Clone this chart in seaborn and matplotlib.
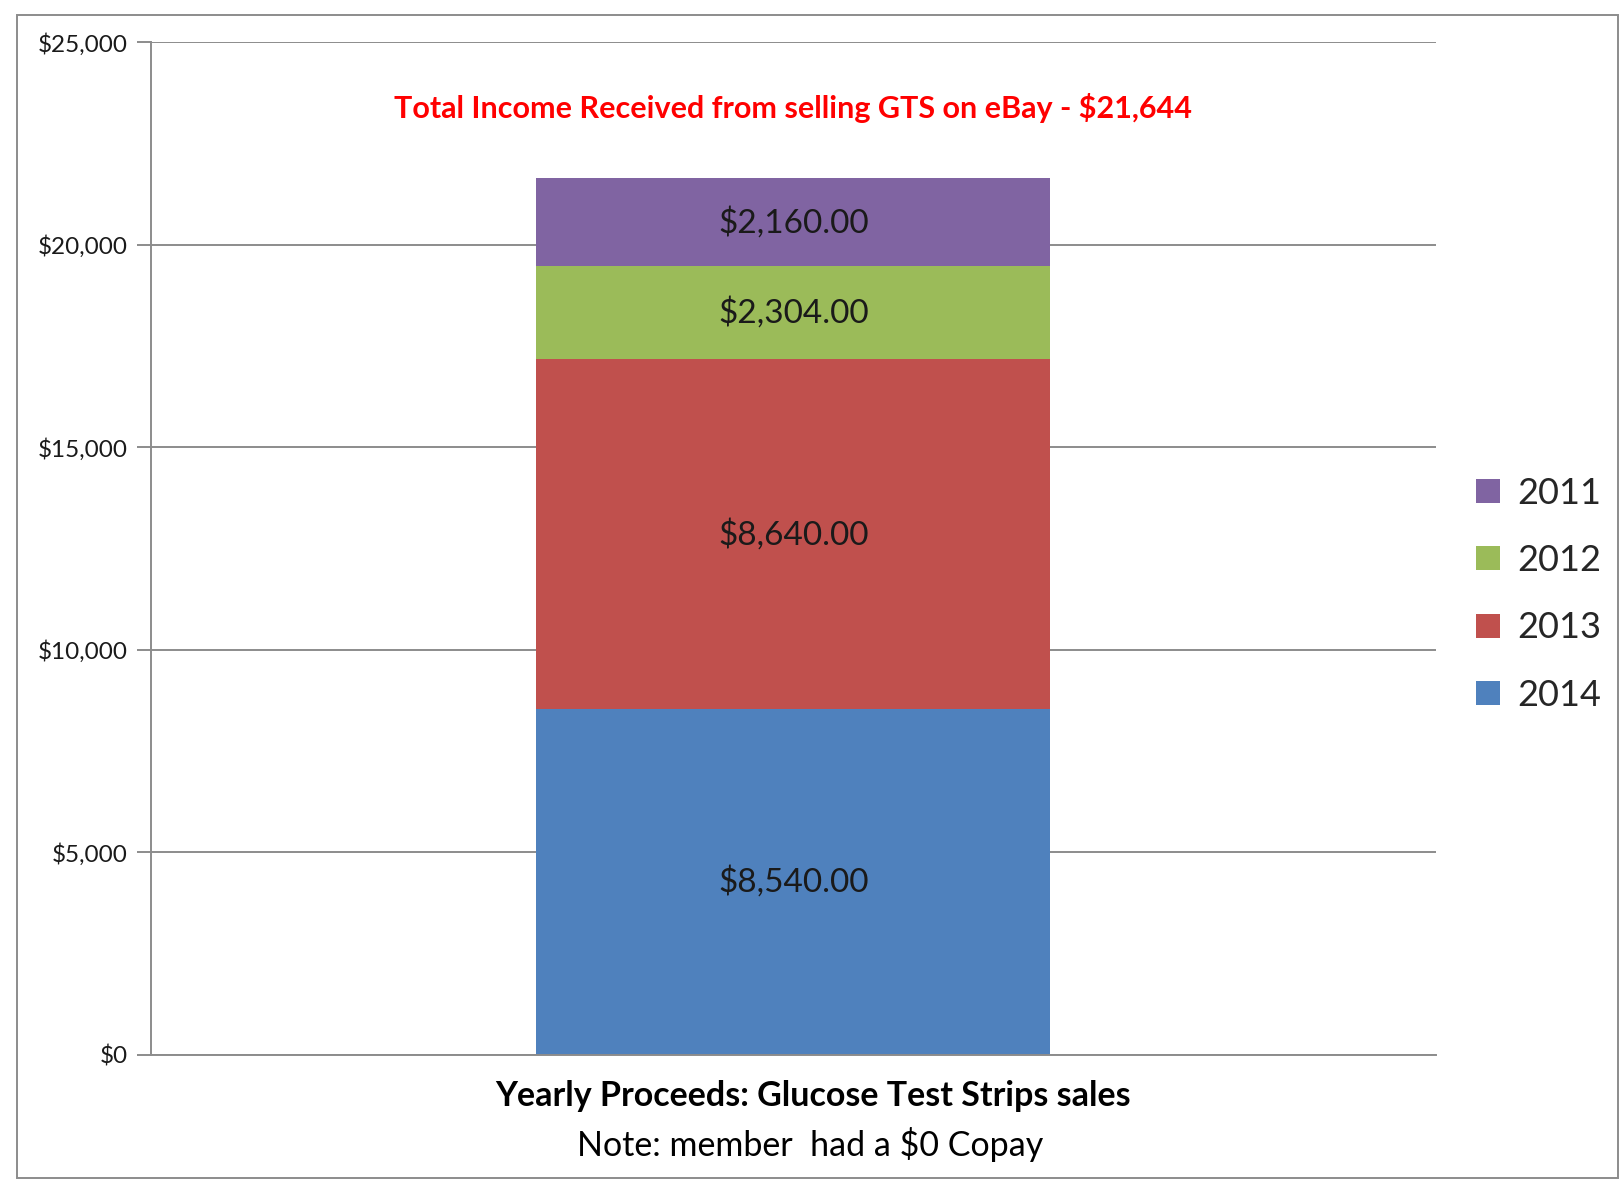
import numpy as np
import pandas as pd
import matplotlib
matplotlib.use("Agg")
import matplotlib.pyplot as plt
from matplotlib.patches import Rectangle
from matplotlib.ticker import FuncFormatter
import seaborn as sns

# data, bottom segment first
years = ["2014", "2013", "2012", "2011"]
proceeds = [8540, 8640, 2304, 2160]
colors = ["#4F81BD", "#C0504D", "#9BBB59", "#8064A2"]
category = ["Yearly Proceeds"]
y_ticks = [0, 5000, 10000, 15000, 20000, 25000]

sns.set_theme(style="white")
plt.rcParams["font.family"] = ["Lato", "DejaVu Sans"]

fig = plt.figure(figsize=(16.22, 11.84), dpi=100)
ax = fig.add_axes([0.0931, 0.1090, 0.7922, 0.8552])

# outer chart frame
fig.patches.append(Rectangle((0.0105, 0.0051), 0.987, 0.9822, transform=fig.transFigure,
                             fill=False, edgecolor="#8c8c8c", linewidth=1.4))

bottoms = np.concatenate([[0], np.cumsum(proceeds)[:-1]])
for yr, val, bot, col in zip(years, proceeds, bottoms, colors):
    df = pd.DataFrame({"cat": category, "val": [val]})
    sns.barplot(data=df, x="cat", y="val", bottom=bot, color=col, width=0.4,
                saturation=1, label=yr, ax=ax, linewidth=0)
    ax.text(0, bot + val / 2, f"${val:,.2f}", ha="center", va="center",
            fontsize=24, color="#1a1a1a")

ax.set_xlim(-0.5, 0.5)
ax.set_ylim(0, 25000)
ax.set_yticks(y_ticks)
ax.yaxis.set_major_formatter(FuncFormatter(lambda v, p: f"${v:,.0f}"))
ax.tick_params(axis="y", labelsize=17.5, colors="#8c8c8c", labelcolor="#1a1a1a",
               length=10, width=1.4, left=True, pad=7)
ax.set_xticks([])
ax.set_xlabel("")
ax.set_ylabel("")
ax.grid(axis="y", color="#8c8c8c", linewidth=1.4)
ax.set_axisbelow(True)
for s in ["top", "right"]:
    ax.spines[s].set_visible(False)
for s in ["left", "bottom"]:
    ax.spines[s].set_color("#8c8c8c")
    ax.spines[s].set_linewidth(1.4)

ax.text(0.5, 0.9356, "Total Income Received from selling GTS on eBay - $21,644",
        transform=ax.transAxes, ha="center", va="center", fontsize=22,
        fontweight="bold", color="#ff0000")

fig.text(0.501, 0.0743, "Yearly Proceeds: Glucose Test Strips sales", ha="center",
         va="center", fontsize=24.5, fontweight="bold", color="#000000")
fig.text(0.4995, 0.033, "Note: member  had a $0 Copay", ha="center", va="center",
         fontsize=24.5, color="#000000")

handles, labels = ax.get_legend_handles_labels()
leg = ax.legend(handles[::-1], labels[::-1], loc="center left",
                bbox_to_anchor=(1.006, 0.455), frameon=False, fontsize=26,
                handlelength=0.65, handleheight=0.65, handletextpad=0.5,
                labelspacing=0.95)

fig.savefig("out.png", dpi=100)
